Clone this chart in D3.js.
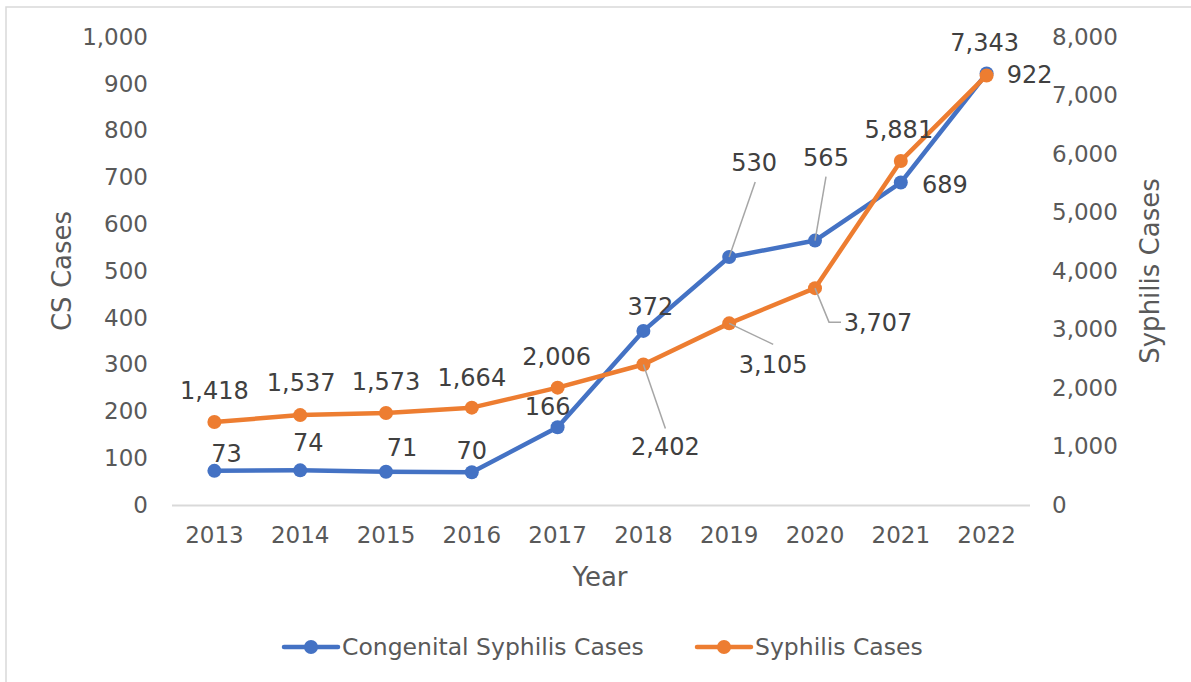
<!DOCTYPE html>
<html>
<head>
<meta charset="utf-8">
<script src="https://cdn.jsdelivr.net/npm/d3@7"></script>
<style>
  html, body { margin: 0; padding: 0; background: #fff; }
  svg { display: block; font-family: "DejaVu Sans", Verdana, sans-serif; }
</style>
</head>
<body>
<svg id="chart" width="1191" height="682"></svg>
<script>
// ---- data ----
const years = ["2013","2014","2015","2016","2017","2018","2019","2020","2021","2022"];
const csCases = [73, 74, 71, 70, 166, 372, 530, 565, 689, 922];
const syphilisCases = [1418, 1537, 1573, 1664, 2006, 2402, 3105, 3707, 5881, 7343];
const leftTicks = [0,100,200,300,400,500,600,700,800,900,1000];
const rightTicks = [0,1000,2000,3000,4000,5000,6000,7000,8000];
const seriesNames = ["Congenital Syphilis Cases", "Syphilis Cases"];

// label offsets (layout only)
const csLabelOff = [[12,-17],[8,-27],[16,-24],[0,-21],[-10,-20],[7,-24],[25,-94],[11,-83],[44,2],[43,1]];
const csLeader = [null,null,null,null,null,null,[26,-75],[11,-64],null,null];
const syLabelOff = [[0,-31],[1,-32],[0,-31],[0,-30],[-1,-31],[22,83],[44,42],[63,35],[-2,-31],[-2,-32]];
const syLeader = [null,null,null,null,null,[[22,64]],[[44,21]],[[14,34],[26,34]],null,null];

const BLUE = "#4472C4", ORANGE = "#ED7D31";
const svg = d3.select("#chart");

// border (top & left visible)
svg.append("rect").attr("x",6).attr("y",7).attr("width",1200).attr("height",700)
  .attr("fill","none").attr("stroke","#d9d9d9").attr("stroke-width",1.5);

const x = d3.scaleBand().domain(years).range([171.5, 1029.5]);
const yL = d3.scaleLinear().domain([0,1000]).range([505,37]);
const yR = d3.scaleLinear().domain([0,8000]).range([505,37]);
const cx = d => x(d) + x.bandwidth()/2;

// x axis
const xAxis = svg.append("g").attr("transform","translate(0,505)")
  .call(d3.axisBottom(x).tickSize(0).tickPadding(22));
xAxis.select(".domain").attr("stroke","#d9d9d9").attr("stroke-width",2);
xAxis.selectAll("text").attr("font-size",23).attr("fill","#595959")
  .attr("font-family","DejaVu Sans");

// left axis
const lAxis = svg.append("g").attr("transform","translate(148,0)")
  .call(d3.axisLeft(yL).tickValues(leftTicks).tickSize(0).tickPadding(0).tickFormat(d3.format(",")));
lAxis.select(".domain").remove();
lAxis.selectAll("text").attr("font-size",23).attr("fill","#595959").attr("font-family","DejaVu Sans");

// right axis
const rAxis = svg.append("g").attr("transform","translate(1052,0)")
  .call(d3.axisRight(yR).tickValues(rightTicks).tickSize(0).tickPadding(0).tickFormat(d3.format(",")));
rAxis.select(".domain").remove();
rAxis.selectAll("text").attr("font-size",23).attr("fill","#595959").attr("font-family","DejaVu Sans");

// axis titles
svg.append("text").attr("transform","translate(62,271) rotate(-90)")
  .attr("text-anchor","middle").attr("dominant-baseline","central")
  .attr("font-size",26).attr("fill","#595959").text("CS Cases");
svg.append("text").attr("transform","translate(1150,271) rotate(-90)")
  .attr("text-anchor","middle").attr("dominant-baseline","central")
  .attr("font-size",26).attr("fill","#595959").text("Syphilis Cases");
svg.append("text").attr("x",600).attr("y",577)
  .attr("text-anchor","middle").attr("dominant-baseline","central")
  .attr("font-size",26).attr("fill","#595959").text("Year");

// lines
const csPts = years.map((y,i)=>[cx(y), yL(csCases[i])]);
const syPts = years.map((y,i)=>[cx(y), yR(syphilisCases[i])]);
const line = d3.line();

svg.append("path").attr("d", line(csPts)).attr("fill","none")
  .attr("stroke",BLUE).attr("stroke-width",4.5).attr("stroke-linejoin","round").attr("stroke-linecap","round");
svg.selectAll("circle.cs").data(csPts).join("circle").attr("class","cs")
  .attr("cx",d=>d[0]).attr("cy",d=>d[1]).attr("r",7).attr("fill",BLUE);

svg.append("path").attr("d", line(syPts)).attr("fill","none")
  .attr("stroke",ORANGE).attr("stroke-width",4.5).attr("stroke-linejoin","round").attr("stroke-linecap","round");
svg.selectAll("circle.sy").data(syPts).join("circle").attr("class","sy")
  .attr("cx",d=>d[0]).attr("cy",d=>d[1]).attr("r",7).attr("fill",ORANGE);

// leader lines
const leaderG = svg.append("g").attr("stroke","#a6a6a6").attr("stroke-width",1.5).attr("fill","none");
csPts.forEach((p,i)=>{
  if (!csLeader[i]) return;
  leaderG.append("path").attr("d", line([p, [p[0]+csLeader[i][0], p[1]+csLeader[i][1]]]));
});
syPts.forEach((p,i)=>{
  if (!syLeader[i]) return;
  const pts = [p].concat(syLeader[i].map(o=>[p[0]+o[0], p[1]+o[1]]));
  leaderG.append("path").attr("d", line(pts));
});

// data labels
const fmt = d3.format(",");
const labG = svg.append("g").attr("font-size",24).attr("fill","#404040")
  .attr("text-anchor","middle").attr("dominant-baseline","central");
csPts.forEach((p,i)=>{
  labG.append("text").attr("x",p[0]+csLabelOff[i][0]).attr("y",p[1]+csLabelOff[i][1]).text(fmt(csCases[i]));
});
syPts.forEach((p,i)=>{
  labG.append("text").attr("x",p[0]+syLabelOff[i][0]).attr("y",p[1]+syLabelOff[i][1]).text(fmt(syphilisCases[i]));
});

// legend
const legend = [
  {name: seriesNames[0], color: BLUE, x0: 284},
  {name: seriesNames[1], color: ORANGE, x0: 697}
];
legend.forEach(l=>{
  const g = svg.append("g");
  g.append("line").attr("x1",l.x0).attr("x2",l.x0+54).attr("y1",647).attr("y2",647)
    .attr("stroke",l.color).attr("stroke-width",4.5).attr("stroke-linecap","round");
  g.append("circle").attr("cx",l.x0+27).attr("cy",647).attr("r",7).attr("fill",l.color);
  g.append("text").attr("x",l.x0+58).attr("y",647).attr("dominant-baseline","central")
    .attr("font-size",23.5).attr("fill","#595959").text(l.name);
});
</script>
</body>
</html>
